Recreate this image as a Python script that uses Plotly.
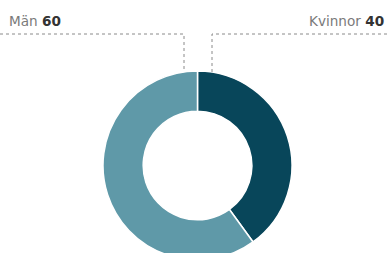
import plotly.graph_objects as go

W, H = 387, 262

categories = ["Kvinnor", "Män"]
values = [40, 60]
colors = ["#08465a", "#5f99a8"]

def px(x):
    return x / W

def py(y):
    return 1 - y / H

fig = go.Figure(go.Pie(
    labels=categories,
    values=values,
    hole=0.575,
    sort=False,
    direction="clockwise",
    rotation=0,
    textinfo="none",
    hoverinfo="label+value",
    marker=dict(colors=colors, line=dict(color="white", width=1.5)),
    domain=dict(x=[px(103), px(292)], y=[py(260), py(71)]),
    showlegend=False,
))

line_style = dict(color="#8a8a8a", width=1, dash="dot")
fig.add_shape(type="path", xref="paper", yref="paper",
              path=f"M 0 {py(34)} L {px(184)} {py(34)} L {px(184)} {py(72)}",
              line=line_style)
fig.add_shape(type="path", xref="paper", yref="paper",
              path=f"M 1 {py(34)} L {px(212)} {py(34)} L {px(212)} {py(72)}",
              line=line_style)

fig.add_annotation(x=px(7), y=py(21), xref="paper", yref="paper",
                   xanchor="left", yanchor="middle", showarrow=False,
                   text=f"<span style='color:#7a7a7a'>{categories[1]}</span> <b>{values[1]}</b>",
                   font=dict(family="DejaVu Sans", size=13.6, color="#333333"))
fig.add_annotation(x=px(386), y=py(21), xref="paper", yref="paper",
                   xanchor="right", yanchor="middle", showarrow=False,
                   text=f"<span style='color:#7a7a7a'>{categories[0]}</span> <b>{values[0]}</b>",
                   font=dict(family="DejaVu Sans", size=13.6, color="#333333"))

fig.update_layout(
    width=W, height=H,
    margin=dict(l=0, r=0, t=0, b=0),
    paper_bgcolor="white", plot_bgcolor="white",
)

fig.write_html("out.html", config={"displayModeBar": False},
               post_script="document.body.style.margin='0';document.body.style.overflow='hidden';")
